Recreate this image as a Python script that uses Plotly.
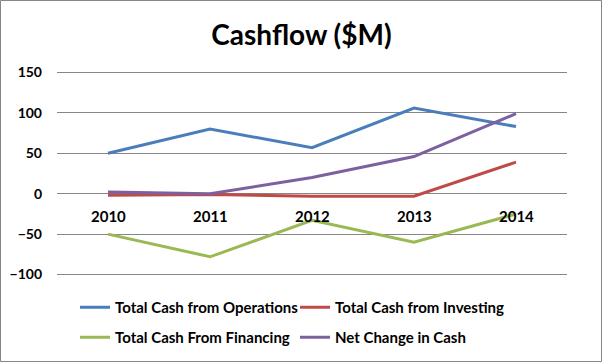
import plotly.graph_objects as go

years = ["2010", "2011", "2012", "2013", "2014"]
operations = [50, 80, 57, 106, 83]
investing = [-2, -1, -3, -3, 39]
financing = [-50, -78, -33, -60, -25]
net_change = [2, 0, 20, 46, 99]
y_ticks = [-100, -50, 0, 50, 100, 150]

series = [
    ("Total Cash from Operations", operations, "#4A7EBB", "legend"),
    ("Total Cash from Investing", investing, "#BE4B48", "legend"),
    ("Total Cash From Financing", financing, "#98B954", "legend2"),
    ("Net Change in Cash", net_change, "#7D60A0", "legend2"),
]

W, H = 603, 363
ml, mr, mt, mb = 57, 36, 70, 86
pw, ph = W - ml - mr, H - mt - mb

fig = go.Figure()
for name, vals, color, leg in series:
    fig.add_trace(go.Scatter(x=years, y=vals, name=name, mode="lines",
                             line=dict(color=color, width=3), legend=leg))

for i, yr in enumerate(years):
    fig.add_annotation(x=i, y=0, xref="x", yref="y", text=yr,
                       showarrow=False, yanchor="middle", yshift=-22,
                       font=dict(family="Lato", size=15, color="#000",
                                 weight="bold"))

legfont = dict(family="Lato", size=15, color="#000", weight="bold")
fig.update_layout(
    width=W, height=H,
    margin=dict(l=ml, r=mr, t=mt, b=mb, autoexpand=False),
    paper_bgcolor="white", plot_bgcolor="white",
    title=dict(text="Cashflow ($M)", x=0.5, xanchor="center",
               y=1 - 35 / H, yanchor="middle",
               font=dict(family="Lato", size=28, color="#000",
                         weight="bold")),
    xaxis=dict(type="category", showticklabels=False, showgrid=False,
               zeroline=False, showline=False, range=[-0.5, 4.5]),
    yaxis=dict(range=[-103, 153], tickvals=y_ticks, showgrid=True,
               gridcolor="#868686", gridwidth=1, zeroline=True,
               zerolinecolor="#868686", zerolinewidth=1, showline=False,
               ticklabelstandoff=14,
               tickfont=dict(family="Lato", size=14, color="#000",
                             weight="bold")),
    legend=dict(orientation="h", x=(75 - ml) / pw, y=(H - mb - 291) / ph,
                xanchor="left", yanchor="top", entrywidth=175,
                entrywidthmode="pixels", font=legfont,
                bgcolor="rgba(0,0,0,0)"),
    legend2=dict(orientation="h", x=(75 - ml) / pw, y=(H - mb - 321) / ph,
                 xanchor="left", yanchor="top", entrywidth=175,
                 entrywidthmode="pixels", font=legfont,
                 bgcolor="rgba(0,0,0,0)"),
    showlegend=True,
)

fig.add_shape(type="rect", xref="paper", yref="paper",
              x0=-(ml - 0.5) / pw, x1=1 + (mr - 1.5) / pw,
              y0=-(mb - 1.5) / ph, y1=1 + (mt - 0.5) / ph,
              line=dict(color="#868686", width=1), layer="below")

fig.write_html("out.html", config={"displayModeBar": False},
               post_script="document.body.style.margin='0';")
